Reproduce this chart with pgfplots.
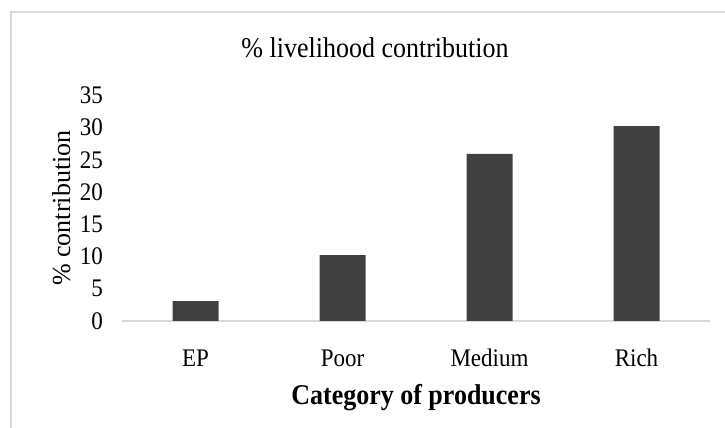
\documentclass[border=0pt]{standalone}
\usepackage{pgfplots}
\pgfplotsset{compat=1.18}
\usepackage{fontspec}
\setmainfont{Liberation Serif}
\definecolor{barc}{RGB}{64,64,64}
\definecolor{framec}{RGB}{217,217,217}
\begin{document}
\begin{tikzpicture}[x=1pt,y=1pt]
\begin{scope}
\clip (0,0) rectangle (725,428);
\draw[framec, line width=1.4pt] (11,-10) -- (11,416) -- (740,416);
\end{scope}
\begin{axis}[
  at={(122pt,107pt)}, anchor=south west,
  scale only axis, width=588pt, height=225.75pt,
  xmin=-0.5, xmax=3.5, ymin=0, ymax=35,
  xtick={0,1,2,3}, xticklabels={EP,Poor,Medium,Rich},
  ytick={0,5,...,35},
  axis lines*=left,
  x axis line style={draw=framec, line width=1.4pt},
  y axis line style={draw=none},
  major tick length=0pt,
  tick style={draw=none},
  /pgf/number format/assume math mode=true,
  tick label style={font=\fontsize{23}{27}\selectfont},
  yticklabel style={anchor=east, inner sep=0pt, xshift=-19pt, yscale=1.1},
  xticklabel style={anchor=base, inner sep=0pt, yshift=-45pt, yscale=1.1},
  xlabel={\textbf{Category of producers}},
  ylabel={\% contribution},
  every axis x label/.style={at={(axis description cs:0.5,0)}, anchor=base, inner sep=0pt, yshift=-83pt, yscale=1.1, font=\fontsize{26}{30}\selectfont},
  every axis y label/.style={at={(axis description cs:0,0.5)}, rotate=90, anchor=base, inner sep=0pt, yshift=52pt, font=\fontsize{26}{30}\selectfont},
  clip=false,
]
\addplot[ybar, bar width=46pt, fill=barc, draw=none] coordinates {(0,3.1) (1,10.2) (2,25.9) (3,30.2)};
\end{axis}
\node[anchor=base, inner sep=0pt, yscale=1.1, font=\fontsize{26}{30}\selectfont] at (375,370) {\% livelihood contribution};
\pgfresetboundingbox
\useasboundingbox (0,0) rectangle (725,428);
\end{tikzpicture}
\end{document}
